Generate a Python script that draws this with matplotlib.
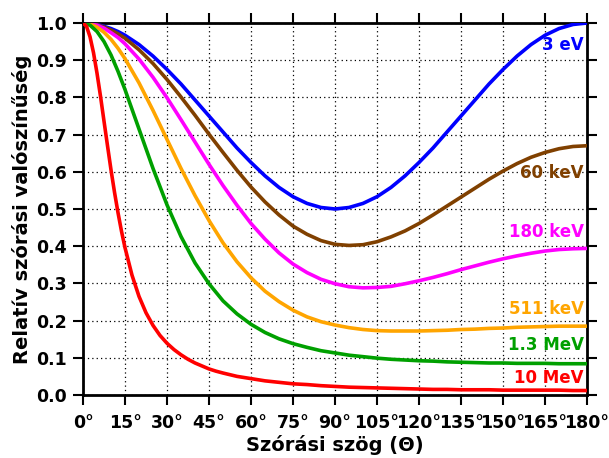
import matplotlib
matplotlib.use("Agg")
import matplotlib.pyplot as plt

plt.rcParams['font.family'] = ['DejaVu Sans']
plt.rcParams['font.weight'] = 'bold'

# scattering angle (degrees)
angles = [0, 2.5, 5, 7.5, 10, 12.5, 15, 20, 25, 30, 35, 40, 45, 50, 55, 60, 65, 70,
          75, 80, 85, 90, 95, 100, 105, 110, 115, 120, 125, 130, 135, 140, 145, 150,
          155, 160, 165, 170, 175, 180]

# relative probability
p_3ev = [1.000, 0.999, 0.996, 0.991, 0.985, 0.977, 0.967, 0.942, 0.911, 0.875, 0.836,
         0.793, 0.750, 0.707, 0.664, 0.625, 0.589, 0.558, 0.533, 0.515, 0.504, 0.500,
         0.504, 0.515, 0.533, 0.558, 0.589, 0.625, 0.664, 0.707, 0.750, 0.793, 0.836,
         0.875, 0.911, 0.942, 0.967, 0.985, 0.996, 1.000]
p_60kev = [1.000, 0.999, 0.995, 0.989, 0.981, 0.971, 0.959, 0.928, 0.891, 0.848, 0.801,
           0.752, 0.701, 0.652, 0.604, 0.559, 0.519, 0.484, 0.454, 0.432, 0.415, 0.405,
           0.402, 0.404, 0.412, 0.425, 0.441, 0.461, 0.484, 0.508, 0.532, 0.556, 0.580,
           0.602, 0.622, 0.639, 0.652, 0.662, 0.668, 0.670]
p_180kev = [1.000, 0.998, 0.994, 0.986, 0.974, 0.961, 0.944, 0.903, 0.854, 0.799, 0.740,
            0.680, 0.620, 0.563, 0.510, 0.461, 0.419, 0.382, 0.352, 0.329, 0.311, 0.299,
            0.291, 0.288, 0.289, 0.292, 0.299, 0.307, 0.316, 0.326, 0.337, 0.347, 0.357,
            0.366, 0.374, 0.381, 0.387, 0.391, 0.393, 0.394]
p_511kev = [1.000, 0.997, 0.989, 0.975, 0.956, 0.932, 0.904, 0.839, 0.765, 0.687, 0.609,
            0.536, 0.469, 0.409, 0.358, 0.315, 0.279, 0.251, 0.228, 0.210, 0.197, 0.188,
            0.181, 0.176, 0.173, 0.172, 0.172, 0.172, 0.173, 0.174, 0.176, 0.177, 0.179,
            0.180, 0.182, 0.183, 0.184, 0.185, 0.185, 0.185]
p_1_3mev = [1.000, 0.994, 0.977, 0.950, 0.914, 0.870, 0.821, 0.715, 0.609, 0.511, 0.426,
            0.355, 0.299, 0.253, 0.218, 0.190, 0.168, 0.151, 0.138, 0.128, 0.119, 0.113,
            0.107, 0.103, 0.099, 0.096, 0.094, 0.092, 0.091, 0.089, 0.088, 0.087, 0.086,
            0.086, 0.085, 0.085, 0.085, 0.084, 0.084, 0.084]

# 10 MeV drops fast, so it is read at a finer step near the start
angles_10mev = [0, 1.25, 2.5, 3.75, 5, 6.25, 7.5, 8.75, 10, 11.25, 12.5, 13.75, 15,
                17.5, 20, 22.5, 25, 27.5, 30, 32.5, 35, 37.5, 40, 42.5, 45, 47.5, 50,
                55, 60, 65, 70, 75, 80, 85, 90, 95, 100, 105, 110, 115, 120, 125, 130,
                135, 140, 145, 150, 155, 160, 165, 170, 175, 180]
p_10mev = [1.000, 0.991, 0.963, 0.920, 0.865, 0.803, 0.736, 0.670, 0.605, 0.545, 0.490,
           0.440, 0.396, 0.322, 0.265, 0.221, 0.187, 0.160, 0.139, 0.122, 0.108, 0.096,
           0.086, 0.078, 0.070, 0.064, 0.059,
           0.050, 0.044, 0.038, 0.034, 0.030, 0.028, 0.025, 0.023, 0.021, 0.020, 0.019,
           0.018, 0.017, 0.016, 0.015, 0.015, 0.014, 0.014, 0.014, 0.013, 0.013, 0.013,
           0.013, 0.013, 0.012, 0.012]

labels = ["3 eV", "60 keV", "180 keV", "511 keV", "1.3 MeV", "10 MeV"]
label_y = [0.941, 0.597, 0.438, 0.232, 0.134, 0.046]
colors = ["#0000ff", "#804000", "#ff00ff", "#ffa500", "#00a000", "#ff0000"]
series = [(angles, p_3ev), (angles, p_60kev), (angles, p_180kev),
          (angles, p_511kev), (angles, p_1_3mev), (angles_10mev, p_10mev)]

xticks = list(range(0, 181, 15))
yticks = [i / 10 for i in range(11)]

fig = plt.figure(figsize=(6.09, 4.58), dpi=100)
ax = fig.add_axes([0.1363, 0.1376, 0.8276, 0.8122])

for (xs, ys), col in zip(series, colors):
    ax.plot(xs, ys, color=col, lw=2.6, solid_joinstyle='round', zorder=3)

for lab, ly, col in zip(labels, label_y, colors):
    ax.text(178.9, ly, lab, color=col, fontsize=12, fontweight='bold',
            ha='right', va='center', zorder=4)

ax.set_xlim(0, 180)
ax.set_ylim(0, 1)
ax.set_xticks(xticks, [f"{t}°" for t in xticks])
ax.set_yticks(yticks, [f"{t:.1f}" for t in yticks])
ax.grid(True, color='black', lw=0.9, linestyle=(0, (1, 2.5)), zorder=1)
ax.tick_params(direction='out', length=7.5, width=1.5, labelsize=12.5,
               top=True, right=True)
ax.tick_params(axis='y', pad=4)
ax.tick_params(axis='x', pad=6)
for sp in ax.spines.values():
    sp.set_linewidth(2)

ax.set_xlabel("Szórási szög (Θ)", fontsize=14, fontweight='bold', labelpad=2)
ax.set_ylabel("Relatív szórási valószínűség", fontsize=14, fontweight='bold', labelpad=3)

fig.savefig("out.png", dpi=100)
